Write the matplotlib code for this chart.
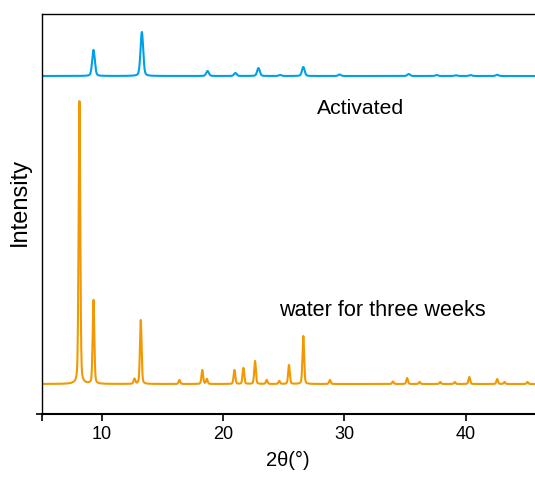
import numpy as np
import matplotlib
matplotlib.use("Agg")
import matplotlib.pyplot as plt

plt.rcParams['font.family'] = ['Liberation Sans', 'DejaVu Sans']

# peak positions (2theta), heights (arbitrary) and widths
water_pos = [8.13, 9.29, 12.67, 13.19, 16.38, 18.27, 18.64, 20.92, 21.66, 22.62,
             23.58, 24.62, 25.42, 26.6, 28.8, 34.0, 35.17, 36.2, 37.9, 39.1,
             40.3, 42.6, 43.2, 45.1]
water_h = [283, 84, 5, 64, 4, 14, 5, 14, 16, 23,
           4, 3, 19, 48, 4, 2.5, 6, 2, 2, 2,
           7, 5, 2, 2]
water_w = 0.16

act_pos = [9.29, 13.28, 18.7, 21.0, 22.9, 24.7, 26.6, 29.6, 35.3, 37.6,
           39.2, 40.4, 42.6]
act_h = [26, 44, 5, 3, 8, 1, 9, 1.5, 2, 1, 0.7, 1, 1.2]
act_w = 0.26

water_base = 30
act_base = 338

x = np.linspace(5, 46, 4000)


def pattern(pos, h, w, base):
    y = np.full_like(x, base, dtype=float)
    for p, a in zip(pos, h):
        g = np.exp(-4 * np.log(2) * ((x - p) / w) ** 2)
        l = 1 / (1 + 4 * ((x - p) / w) ** 2)
        y += a * (0.7 * g + 0.3 * l)
    return y


fig = plt.figure(figsize=(5.35, 4.78), dpi=100)
ax = fig.add_axes([41.5 / 535, 64 / 478, 1 - 41.5 / 535, 400 / 478])

ax.plot(x, pattern(act_pos, act_h, act_w, act_base), color='#00a0e9', lw=1.5)
ax.plot(x, pattern(water_pos, water_h, water_w, water_base), color='#f39800', lw=1.5)

ax.text(31.3, 306, 'Activated', fontsize=15.2, ha='center', va='center')
ax.text(33.1, 104, 'water for three weeks', fontsize=15.6, ha='center', va='center')

ax.set_xlim(5, 45.72)
ax.set_ylim(0, 400)
ax.set_xticks([10, 20, 30, 40])
ax.set_xticks([5], minor=True)
ax.set_yticks([0])
ax.set_yticklabels([])
ax.tick_params(axis='x', which='both', direction='out', length=5, width=1.2, labelsize=13)
ax.tick_params(axis='y', direction='out', length=4, width=1.2)
ax.spines['right'].set_visible(False)
for s in ['left', 'top']:
    ax.spines[s].set_linewidth(1.0)
ax.spines['bottom'].set_linewidth(1.5)

ax.set_xlabel('2θ(°)', fontsize=14.5, labelpad=6)
ax.set_ylabel('Intensity', fontsize=17, labelpad=0)
ax.yaxis.set_label_coords(-0.021, 0.53)

fig.savefig('out.png', dpi=100)
